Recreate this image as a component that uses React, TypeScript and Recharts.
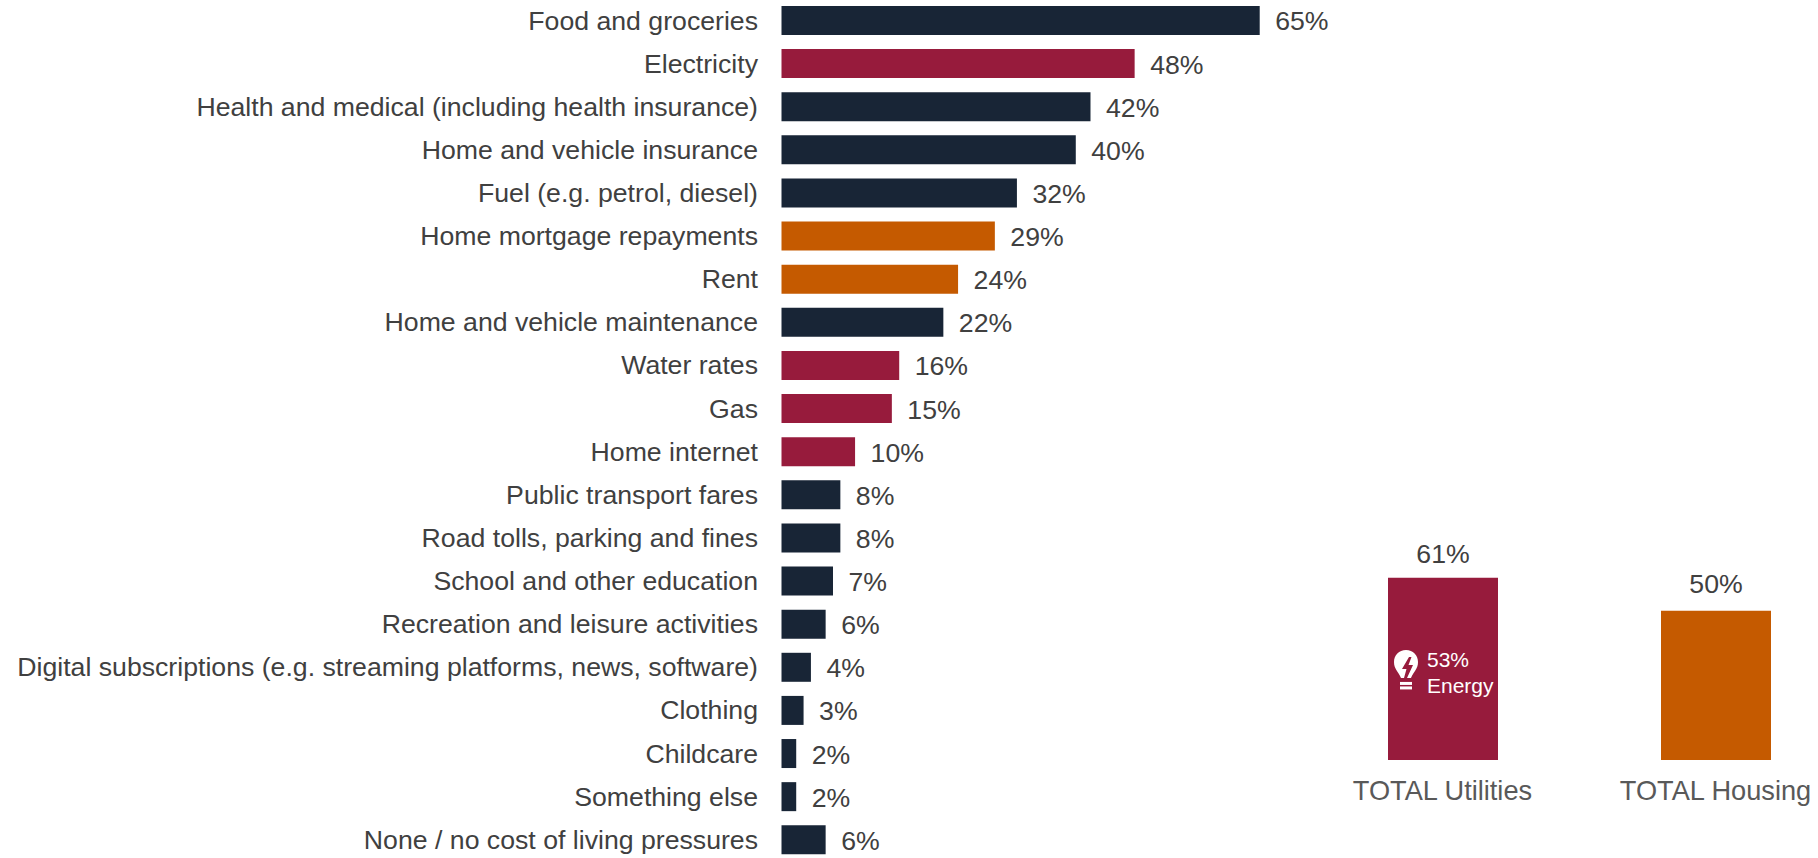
import { Bar, BarChart, Cell, LabelList, XAxis, YAxis } from "recharts";

const pressures = [
  "Food and groceries",
  "Electricity",
  "Health and medical (including health insurance)",
  "Home and vehicle insurance",
  "Fuel (e.g. petrol, diesel)",
  "Home mortgage repayments",
  "Rent",
  "Home and vehicle maintenance",
  "Water rates",
  "Gas",
  "Home internet",
  "Public transport fares",
  "Road tolls, parking and fines",
  "School and other education",
  "Recreation and leisure activities",
  "Digital subscriptions (e.g. streaming platforms, news, software)",
  "Clothing",
  "Childcare",
  "Something else",
  "None / no cost of living pressures",
];
const pressureValues = [65, 48, 42, 40, 32, 29, 24, 22, 16, 15, 10, 8, 8, 7, 6, 4, 3, 2, 2, 6];
const pressureGroups = [
  "other", "utilities", "other", "other", "other", "housing", "housing", "other",
  "utilities", "utilities", "utilities", "other", "other", "other", "other",
  "other", "other", "other", "other", "other",
];

const totals = ["TOTAL Utilities", "TOTAL Housing"];
const totalValues = [61, 50];
const totalGroups = ["utilities", "housing"];
const energyLines = ["53%", "Energy"];

const groupColors: Record<string, string> = {
  other: "#182536",
  utilities: "#971B3C",
  housing: "#C55A00",
};

const FONT = '"Liberation Sans", Arial, sans-serif';
const TEXT_SIZE = 26.67;

const pressureData = pressures.map((name, i) => ({ name, value: pressureValues[i] }));
const totalData = totals.map((name, i) => ({ name, value: totalValues[i] }));

const formatPercent = (value: any) => `${value}%`;

function PressureLabel({ x, y, width, height, value }: any) {
  return (
    <text
      x={x + width + 15.5}
      y={y + height / 2 + 10}
      fill="#404040"
      fontSize={TEXT_SIZE}
      fontFamily={FONT}
    >
      {formatPercent(value)}
    </text>
  );
}

// the housing label sits a little higher above its bar in the original
function TotalLabel({ x, y, width, value, index }: any) {
  return (
    <text
      x={x + width / 2}
      y={y - (index === 1 ? 18 : 15)}
      textAnchor="middle"
      fill="#404040"
      fontSize={TEXT_SIZE}
      fontFamily={FONT}
    >
      {formatPercent(value)}
    </text>
  );
}

// only the utilities bar carries the energy note
function EnergyNote({ x, y, height, index }: any) {
  if (index !== 0) return null;
  const cy = y + height / 2;
  const ix = x + 18;
  const iy = cy - 19;
  return (
    <g>
      <path
        d={`M${ix} ${iy} c-7 0 -12 5 -12 12 c0 7 4 9 7 16 h10 c3 -7 7 -9 7 -16 c0 -7 -5 -12 -12 -12 z`}
        fill="#fff"
      />
      <path
        d={`M${ix + 3} ${iy + 7} l-7 12 h4.5 l-2.5 9 h3 l6 -13 h-4.5 l3 -8 z`}
        fill="#971B3C"
      />
      <rect x={ix - 6} y={iy + 32} width={12} height={3} fill="#fff" />
      <rect x={ix - 6} y={iy + 36.5} width={12} height={3} fill="#fff" />
      <text x={x + 39} y={cy - 2} fill="#fff" fontSize={21} fontFamily={FONT}>
        {energyLines[0]}
      </text>
      <text x={x + 39} y={cy + 24} fill="#fff" fontSize={21} fontFamily={FONT}>
        {energyLines[1]}
      </text>
    </g>
  );
}

export default function App() {
  return (
    <div
      style={{
        position: "absolute",
        left: 0,
        top: 0,
        width: 1818,
        height: 858,
        overflow: "hidden",
        background: "#fff",
        fontFamily: FONT,
      }}
    >
      <div style={{ position: "absolute", left: 0, top: -1 }}>
        <BarChart
          width={1400}
          height={862.4}
          data={pressureData}
          layout="vertical"
          margin={{ top: 0, right: 103.5, bottom: 0, left: 0 }}
        >
          <XAxis type="number" hide domain={[0, 70]} />
          <YAxis
            type="category"
            dataKey="name"
            width={781.5}
            interval={0}
            axisLine={false}
            tickLine={false}
            tickSize={0}
            tickMargin={23.5}
            tick={{ fill: "#404040", fontSize: TEXT_SIZE, fontFamily: FONT, dy: -0.5 }}
          />
          <Bar dataKey="value" barSize={29} isAnimationActive={false}>
            {pressureData.map((row, i) => (
              <Cell key={row.name} fill={groupColors[pressureGroups[i]]} />
            ))}
            <LabelList dataKey="value" content={<PressureLabel />} />
          </Bar>
        </BarChart>
      </div>

      <div style={{ position: "absolute", left: 1305.5, top: 520 }}>
        <BarChart
          width={546}
          height={300}
          data={totalData}
          margin={{ top: 31, right: 0, bottom: 0, left: 0 }}
        >
          <XAxis
            dataKey="name"
            height={60}
            interval={0}
            axisLine={false}
            tickLine={false}
            tickSize={0}
            tickMargin={21}
            tick={{ fill: "#595959", fontSize: 27.2, fontFamily: FONT }}
          />
          <YAxis hide domain={[0, 70]} />
          <Bar dataKey="value" barSize={110} isAnimationActive={false}>
            {totalData.map((row, i) => (
              <Cell key={row.name} fill={groupColors[totalGroups[i]]} />
            ))}
            <LabelList dataKey="value" content={<TotalLabel />} />
            <LabelList dataKey="value" content={<EnergyNote />} />
          </Bar>
        </BarChart>
      </div>
    </div>
  );
}
